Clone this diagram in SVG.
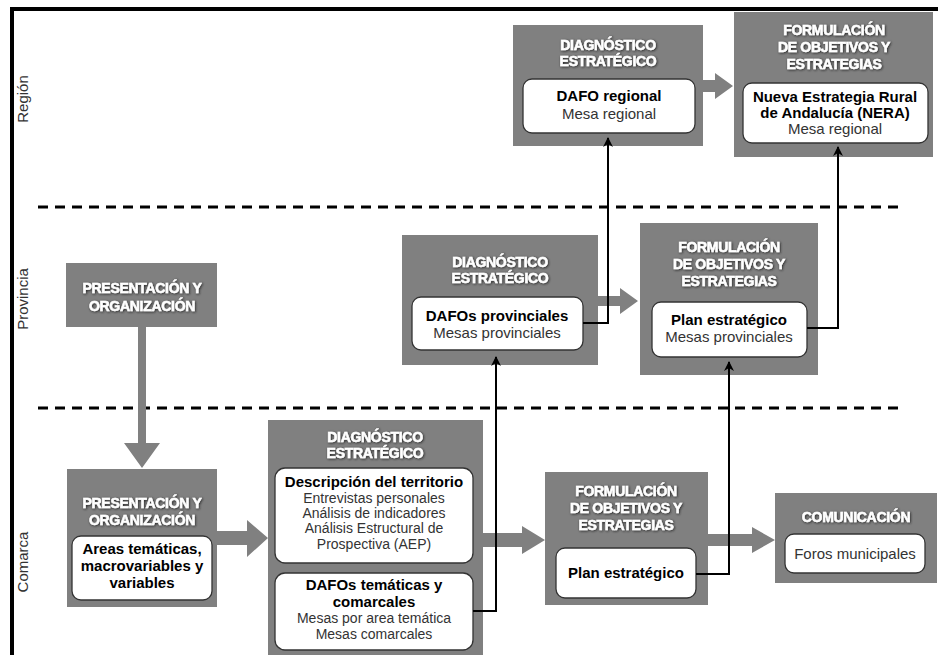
<svg xmlns="http://www.w3.org/2000/svg" width="938" height="655" viewBox="0 0 938 655">
<defs>
<style>
.box{fill:#808080}
.inner{fill:#fff;stroke:#333;stroke-width:1.3}
.title{font-family:"Liberation Sans",Arial,sans-serif;font-weight:bold;font-size:14px;letter-spacing:-0.3px;fill:#fff;stroke:#fff;stroke-width:0.5;text-anchor:middle;filter:url(#sh)}
.b{font-family:"Liberation Sans",Arial,sans-serif;font-weight:bold;font-size:15px;fill:#000;text-anchor:middle}
.r{font-family:"Liberation Sans",Arial,sans-serif;font-size:15px;fill:#333;text-anchor:middle}
.r14{font-family:"Liberation Sans",Arial,sans-serif;font-size:14px;fill:#333;text-anchor:middle}
.side{font-family:"Liberation Sans",Arial,sans-serif;font-size:15px;fill:#333;text-anchor:middle}
.dash{stroke:#000;stroke-width:3;stroke-dasharray:10 7;fill:none}
.conn{stroke:#000;stroke-width:2;fill:none;marker-end:url(#ah)}
.garrow{fill:#808080}
</style>
<filter id="sh" x="-10%" y="-30%" width="120%" height="160%">
<feDropShadow dx="0.8" dy="0.8" stdDeviation="0.8" flood-color="#1a1a1a" flood-opacity="0.95"/>
</filter>
<marker id="ah" viewBox="0 0 10 10" refX="9" refY="5" markerWidth="5" markerHeight="5" orient="auto" markerUnits="strokeWidth">
<path d="M0,0 L10,5 L0,10 L3,5 z" fill="#000"/>
</marker>
</defs>

<!-- frame -->
<g id="frame">
<rect x="10" y="7" width="928" height="4" fill="#000"/>
<rect x="10" y="7" width="4" height="648" fill="#000"/>
</g>

<!-- level separators and labels -->
<g id="levels">
<line class="dash" x1="38" y1="207" x2="905" y2="207"/>
<line class="dash" x1="38" y1="408" x2="905" y2="408"/>
<text class="side" transform="translate(28,99) rotate(-90)">Región</text>
<text class="side" transform="translate(28,299) rotate(-90)">Provincia</text>
<text class="side" transform="translate(28,562) rotate(-90)">Comarca</text>
</g>

<!-- process arrows (thick gray) -->
<g id="process-arrows">
<path class="garrow" d="M703,80 L715,80 L715,73 L733,86 L715,99 L715,92 L703,92 z"/>
<path class="garrow" d="M598,296 L620,296 L620,288 L638,301 L620,314 L620,306 L598,306 z"/>
<path class="garrow" d="M138,327 L146,327 L146,443 L160,443 L142,468 L124,443 L138,443 z"/>
<path class="garrow" d="M217,531 L247,531 L247,520 L268,538 L247,557 L247,545 L217,545 z"/>
<path class="garrow" d="M483,533 L522,533 L522,526 L545,540 L522,554 L522,547 L483,547 z"/>
<path class="garrow" d="M708,534 L752,534 L752,527 L775,540 L752,553 L752,546 L708,546 z"/>
</g>

<!-- Región -->
<g id="reg-diagnostico">
<rect class="box" x="513" y="25" width="190" height="121"/>
<text class="title" x="608" y="50">DIAGNÓSTICO</text>
<text class="title" x="608" y="66">ESTRATÉGICO</text>
<rect class="inner" x="523" y="79" width="172" height="54" rx="9"/>
<text class="b" x="609" y="101">DAFO regional</text>
<text class="r" x="609" y="119">Mesa regional</text>
</g>

<g id="reg-formulacion">
<rect class="box" x="734" y="12" width="199" height="145"/>
<text class="title" x="834" y="35">FORMULACIÓN</text>
<text class="title" x="834" y="52">DE OBJETIVOS Y</text>
<text class="title" x="834" y="69">ESTRATEGIAS</text>
<rect class="inner" x="743" y="83" width="185" height="60" rx="9"/>
<text class="b" x="835" y="102">Nueva Estrategia Rural</text>
<text class="b" x="835" y="118">de Andalucía (NERA)</text>
<text class="r" x="835" y="134">Mesa regional</text>
</g>

<!-- Provincia -->
<g id="prov-presentacion">
<rect class="box" x="66" y="263" width="151" height="64"/>
<text class="title" x="142" y="293">PRESENTACIÓN Y</text>
<text class="title" x="142" y="311">ORGANIZACIÓN</text>
</g>

<g id="prov-diagnostico">
<rect class="box" x="402" y="235" width="196" height="130"/>
<text class="title" x="500" y="267">DIAGNÓSTICO</text>
<text class="title" x="500" y="283">ESTRATÉGICO</text>
<rect class="inner" x="412" y="297" width="171" height="53" rx="9"/>
<text class="b" x="497" y="321">DAFOs provinciales</text>
<text class="r" x="497" y="338">Mesas provinciales</text>
</g>

<g id="prov-formulacion">
<rect class="box" x="640" y="223" width="178" height="152"/>
<text class="title" x="729" y="252">FORMULACIÓN</text>
<text class="title" x="729" y="269">DE OBJETIVOS Y</text>
<text class="title" x="729" y="286">ESTRATEGIAS</text>
<rect class="inner" x="652" y="302" width="155" height="55" rx="9"/>
<text class="b" x="729" y="325">Plan estratégico</text>
<text class="r" x="729" y="342">Mesas provinciales</text>
</g>

<!-- Comarca -->
<g id="com-presentacion">
<rect class="box" x="67" y="469" width="150" height="138"/>
<text class="title" x="142" y="508">PRESENTACIÓN Y</text>
<text class="title" x="142" y="525">ORGANIZACIÓN</text>
<rect class="inner" x="72" y="536" width="140" height="64" rx="9"/>
<text class="b" x="142" y="554">Areas temáticas,</text>
<text class="b" x="142" y="571">macrovariables y</text>
<text class="b" x="142" y="588">variables</text>
</g>

<g id="com-diagnostico">
<rect class="box" x="268" y="420" width="215" height="235"/>
<text class="title" x="375" y="442">DIAGNÓSTICO</text>
<text class="title" x="375" y="458">ESTRATÉGICO</text>
<rect class="inner" x="275" y="468" width="198" height="95" rx="10"/>
<text class="b" x="374" y="487">Descripción del territorio</text>
<text class="r14" x="374" y="503">Entrevistas personales</text>
<text class="r14" x="374" y="518">Análisis de indicadores</text>
<text class="r14" x="374" y="533">Análisis Estructural de</text>
<text class="r14" x="374" y="549">Prospectiva (AEP)</text>
<rect class="inner" x="275" y="573" width="198" height="77" rx="10"/>
<text class="b" x="374" y="590">DAFOs temáticas y</text>
<text class="b" x="374" y="607">comarcales</text>
<text class="r14" x="374" y="623">Mesas por area temática</text>
<text class="r14" x="374" y="639">Mesas comarcales</text>
</g>

<g id="com-formulacion">
<rect class="box" x="545" y="472" width="163" height="133"/>
<text class="title" x="626" y="496">FORMULACIÓN</text>
<text class="title" x="626" y="513">DE OBJETIVOS Y</text>
<text class="title" x="626" y="530">ESTRATEGIAS</text>
<rect class="inner" x="556" y="548" width="140" height="50" rx="9"/>
<text class="b" x="626" y="578">Plan estratégico</text>
</g>

<g id="com-comunicacion">
<rect class="box" x="775" y="493" width="162" height="90"/>
<text class="title" x="856" y="522">COMUNICACIÓN</text>
<rect class="inner" x="785" y="534" width="140" height="39" rx="9"/>
<text class="r" x="855" y="559">Foros municipales</text>
</g>

<!-- connectors -->
<g id="connectors">
<polyline class="conn" points="473,611 496,611 496,357"/>
<polyline class="conn" points="696,574 729,574 729,362"/>
<polyline class="conn" points="583,323 608,323 608,138"/>
<polyline class="conn" points="807,328 838,328 838,147"/>
</g>
</svg>
